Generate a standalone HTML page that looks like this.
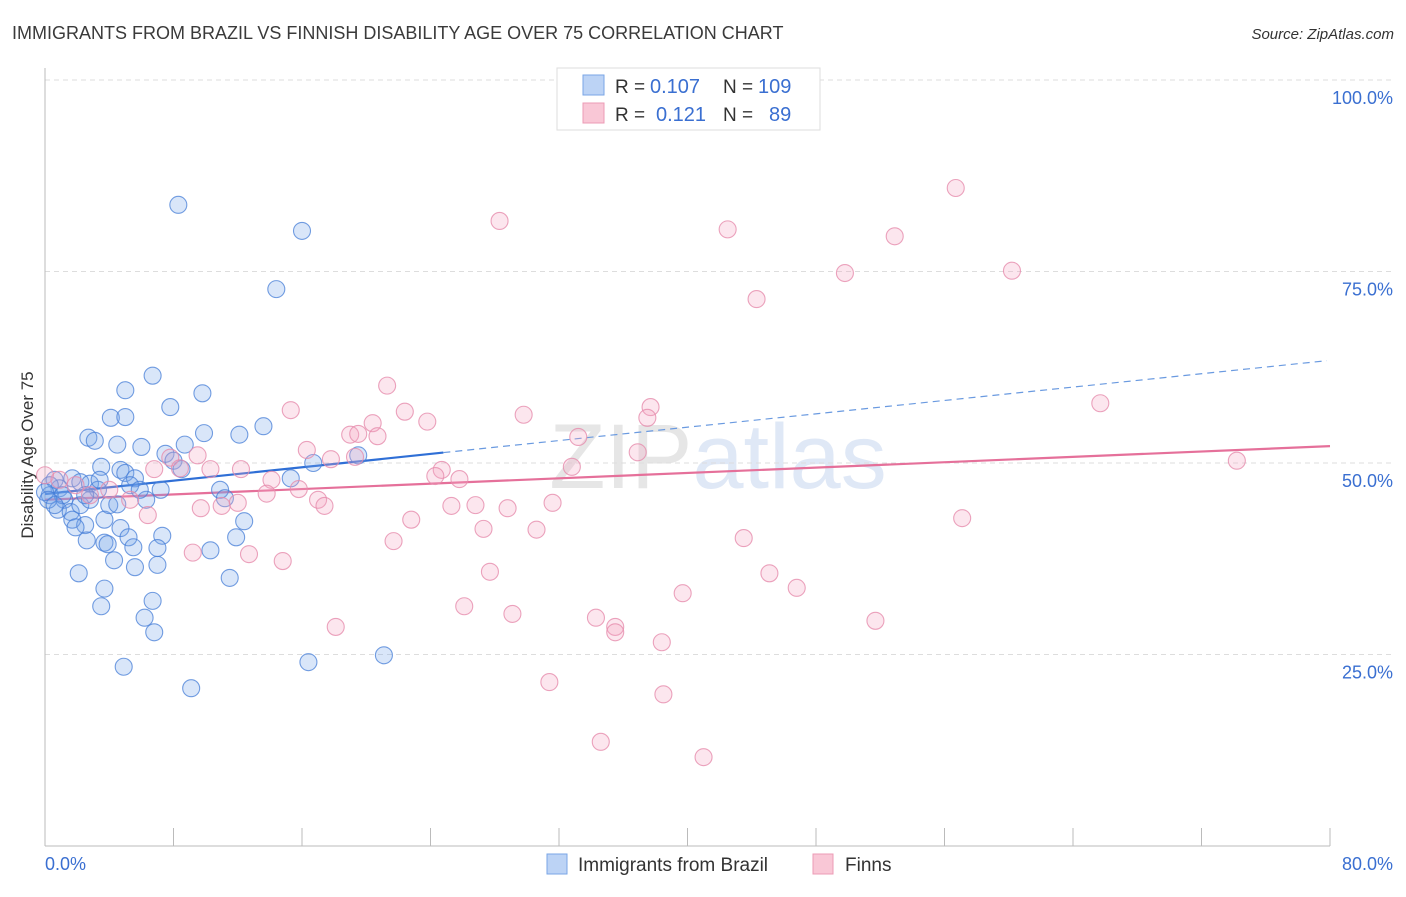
<!DOCTYPE html>
<html><head><meta charset="utf-8"><style>
body{margin:0;background:#fff;font-family:"Liberation Sans",sans-serif;}
svg text{font-family:"Liberation Sans",sans-serif;}
</style></head><body>
<svg id="chart" width="1406" height="892" xmlns="http://www.w3.org/2000/svg">
<text x="12" y="39" font-size="18" fill="#3a3a3a">IMMIGRANTS FROM BRAZIL VS FINNISH DISABILITY AGE OVER 75 CORRELATION CHART</text>
<text x="1394" y="39" font-size="15" fill="#333" font-style="italic" text-anchor="end">Source: ZipAtlas.com</text>
<text x="718" y="488" font-size="92" text-anchor="middle" font-family="Liberation Serif"><tspan fill="#e6e6e6">ZIP</tspan><tspan fill="#dfe8f6" font-family="Liberation Sans">atlas</tspan></text>
<g id="grid"></g>
<g id="axes"></g>
<g id="trend"></g>
<g id="blue"></g>
<g id="pink"></g>
<text transform="translate(33,455) rotate(-90)" font-size="17" fill="#333" text-anchor="middle">Disability Age Over 75</text>
<g>
<rect x="557" y="68" width="263" height="62" fill="#fff" stroke="#ddd"/>
<rect x="583" y="75" width="21" height="20" fill="#bcd3f5" stroke="#7aa6e6"/>
<rect x="583" y="103" width="21" height="20" fill="#f9c7d6" stroke="#ec9bb5"/>
<text x="615" y="93" font-size="19" fill="#333">R =</text>
<text x="650" y="93" font-size="20" fill="#3a6fd1">0.107</text>
<text x="723" y="93" font-size="19" fill="#333">N =</text>
<text x="758" y="93" font-size="20" fill="#3a6fd1">109</text>
<text x="615" y="121" font-size="19" fill="#333">R =</text>
<text x="656" y="121" font-size="20" fill="#3a6fd1">0.121</text>
<text x="723" y="121" font-size="19" fill="#333">N =</text>
<text x="769" y="121" font-size="20" fill="#3a6fd1">89</text>
</g>
<g>
<rect x="547" y="854" width="20" height="20" fill="#bcd3f5" stroke="#7aa6e6"/>
<text x="578" y="871" font-size="19" fill="#333">Immigrants from Brazil</text>
<rect x="813" y="854" width="20" height="20" fill="#f9c7d6" stroke="#ec9bb5"/>
<text x="845" y="871" font-size="19" fill="#333">Finns</text>
</g>
</svg>
<script>
const xTickLabels=["0.0%","80.0%"];
const yTicks=[25,50,75,100];
const yTickLabels=["25.0%","50.0%","75.0%","100.0%"];
const blueX=[8.3,16.0,14.4,6.7,5.0,7.8,9.8,4.1,5.0,9.9,12.1,13.6,2.7,3.1,4.5,6.0,7.5,8.7,8.0,8.5,3.5,4.7,5.0,5.6,1.7,2.2,2.8,3.3,0.6,0.9,0.3,1.2,0.8,1.6,2.2,2.8,3.7,4.0,4.5,6.3,7.2,10.9,11.2,15.3,16.7,19.5,1.7,2.5,1.9,2.6,3.7,3.9,4.7,5.2,5.5,7.3,7.0,10.3,11.9,12.4,4.3,5.6,7.0,2.1,3.7,3.5,6.7,6.2,6.8,11.5,4.9,9.1,16.4,21.1,0.3,1.1,0,0.2,0.6,3.4,5.3,5.9,2.5];
const blueY=[83.7,80.3,72.7,61.4,59.5,57.3,59.1,55.9,56.0,53.9,53.7,54.8,53.3,52.9,52.4,52.1,51.2,52.4,50.3,49.2,49.5,49.1,48.7,48.0,48.0,47.5,47.3,46.5,47.8,46.7,45.8,45.2,43.9,43.6,44.5,45.2,42.6,44.5,44.6,45.2,46.5,46.5,45.4,48.0,50.0,51.0,42.6,41.9,41.6,39.9,39.6,39.4,41.5,40.3,39.0,40.5,38.9,38.6,40.3,42.4,37.3,36.4,36.7,35.6,33.6,31.3,32.0,29.8,27.9,35.0,23.4,20.6,24.0,24.9,47.1,45.8,46.2,45.2,44.5,47.8,47.1,46.5,45.8];
const pinkX=[56.7,28.3,42.5,52.9,49.8,60.2,44.3,21.3,15.3,22.4,29.8,37.7,37.5,65.7,23.8,20.4,19.0,19.5,20.7,16.3,17.8,19.3,33.2,36.9,32.8,24.7,24.3,25.8,74.2,9.5,10.3,12.2,7.8,8.4,6.8,14.1,15.8,13.8,17.0,17.4,12.0,11.0,9.7,6.4,25.3,26.8,28.8,31.6,22.8,27.3,30.6,21.7,43.5,57.1,9.2,12.7,14.8,27.7,45.1,46.8,39.7,26.1,29.1,34.3,35.5,35.5,18.1,51.7,38.4,31.4,38.5,34.6,41.0,0,0.9,4.0,5.3,2.8,1.9];
const pinkY=[85.9,81.6,80.5,79.6,74.8,75.1,71.4,60.1,56.9,56.7,56.3,57.3,55.9,57.8,55.4,55.2,53.7,53.8,53.5,51.7,50.5,50.8,53.4,51.4,49.5,49.1,48.3,47.9,50.3,51.0,49.2,49.2,50.7,49.3,49.2,47.8,46.6,46.0,45.2,44.4,44.8,44.4,44.1,43.2,44.4,44.5,44.1,44.8,42.6,41.4,41.3,39.8,40.2,42.8,38.3,38.1,37.2,35.8,35.6,33.7,33.0,31.3,30.3,29.8,28.6,27.9,28.6,29.4,26.6,21.4,19.8,13.6,11.6,48.4,47.8,46.5,45.2,45.8,47.1];
const blueTrend=[45.95,63.4];
const blueSolidEnd=24.8;
const pinkTrend=[45.2,52.2];
const NS="http://www.w3.org/2000/svg";
const X0=45,X1=1330,Y0=846,Y100=80;
const sx=v=>X0+(X1-X0)*v/80;
const sy=v=>Y0-(Y0-Y100)*v/100;
function mk(tag,attrs,parent){const e=document.createElementNS(NS,tag);for(const k in attrs)e.setAttribute(k,attrs[k]);parent.appendChild(e);return e;}
const grid=document.getElementById('grid'),axes=document.getElementById('axes');
yTicks.forEach((t,i)=>{
 const l=mk('line',{x1:X0,x2:1393,y1:sy(t),y2:sy(t),stroke:'#ddd','stroke-dasharray':'5,4'},grid);
 
 
 const tx=mk('text',{x:1393,y:sy(t)+24,'font-size':18,fill:'#3a6fd1','text-anchor':'end'},axes);
 tx.textContent=yTickLabels[i];
 
 
});
const ya=mk('line',{x1:X0,x2:X0,y1:68,y2:Y0,stroke:'#bbb'},axes);


const xa=mk('line',{x1:X0,x2:X1,y1:Y0,y2:Y0,stroke:'#bbb'},axes);


for(let v=0;v<=80;v+=8){
 const tk=mk('line',{x1:sx(v),x2:sx(v),y1:828,y2:Y0,stroke:'#bbb'},axes);
 
 
}
const xl0=mk('text',{x:45,y:870,'font-size':18,fill:'#3a6fd1'},axes);
xl0.textContent=xTickLabels[0];


const xl1=mk('text',{x:1393,y:870,'font-size':18,fill:'#3a6fd1','text-anchor':'end'},axes);
xl1.textContent=xTickLabels[1];


function pts(xs,ys,g,fill,stroke,name){
 xs.forEach((x,i)=>{
  const c=mk('circle',{cx:sx(x),cy:sy(ys[i]),r:8.5,fill:fill,stroke:stroke,'stroke-width':1.1},g);
  
  
 });
}
pts(blueX,blueY,document.getElementById('blue'),'rgba(120,165,232,0.28)','rgba(70,125,215,0.75)','brazil-point');
pts(pinkX,pinkY,document.getElementById('pink'),'rgba(244,165,193,0.28)','rgba(230,140,172,0.8)','finns-point');
const tr=document.getElementById('trend');
const bAt=x=>blueTrend[0]+(blueTrend[1]-blueTrend[0])*x/80;
const b1=mk('line',{x1:sx(0),y1:sy(bAt(0)),x2:sx(blueSolidEnd),y2:sy(bAt(blueSolidEnd)),stroke:'#2f6fd6','stroke-width':2.2},tr);


const b2=mk('line',{x1:sx(blueSolidEnd),y1:sy(bAt(blueSolidEnd)),x2:sx(79.8),y2:sy(bAt(79.8)),stroke:'#6a9ae0','stroke-width':1.2,'stroke-dasharray':'7,5'},tr);


const p1=mk('line',{x1:sx(0),y1:sy(pinkTrend[0]),x2:sx(80),y2:sy(pinkTrend[1]),stroke:'#e5709a','stroke-width':2.2},tr);


</script>
</body></html>
